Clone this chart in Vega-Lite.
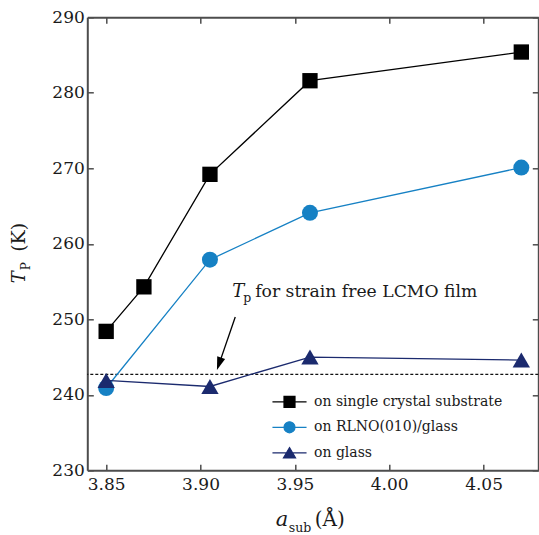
{
  "$schema": "https://vega.github.io/schema/vega-lite/v6.json",
  "width": 451,
  "height": 453,
  "autosize": {"type": "none"},
  "padding": {"left": 87.3, "top": 17.3, "right": 0.7, "bottom": 64.7},
  "background": "white",
  "config": {
    "view": {"stroke": null},
    "font": "DejaVu Serif",
    "text": {"font": "DejaVu Serif"},
    "axis": {
      "domainColor": "#4d4d4d",
      "domainWidth": 2,
      "tickColor": "#4d4d4d",
      "tickWidth": 1.5,
      "tickSize": -6,
      "labelFont": "DejaVu Serif",
      "labelFontSize": 17,
      "labelColor": "#1a1a1a",
      "grid": false,
      "title": null
    },
    "legend": {"labelFont": "DejaVu Serif"}
  },
  "datasets": {
    "tp": [
      {"a": 3.85, "Tp": 248.4, "series": "on single crystal substrate"},
      {"a": 3.87, "Tp": 254.3, "series": "on single crystal substrate"},
      {"a": 3.905, "Tp": 269.2, "series": "on single crystal substrate"},
      {"a": 3.958, "Tp": 281.6, "series": "on single crystal substrate"},
      {"a": 4.07, "Tp": 285.4, "series": "on single crystal substrate"},
      {"a": 3.85, "Tp": 240.9, "series": "on RLNO(010)/glass"},
      {"a": 3.905, "Tp": 257.9, "series": "on RLNO(010)/glass"},
      {"a": 3.958, "Tp": 264.1, "series": "on RLNO(010)/glass"},
      {"a": 4.07, "Tp": 270.1, "series": "on RLNO(010)/glass"},
      {"a": 3.85, "Tp": 241.9, "series": "on glass"},
      {"a": 3.905, "Tp": 241.1, "series": "on glass"},
      {"a": 3.958, "Tp": 245.0, "series": "on glass"},
      {"a": 4.07, "Tp": 244.6, "series": "on glass"}
    ]
  },
  "data": {"name": "tp"},
  "resolve": {"axis": {"x": "independent", "y": "independent"}},
  "layer": [
    {
      "data": {"values": [{}]},
      "mark": {"type": "rule", "strokeDash": [3, 2], "strokeWidth": 1.2, "color": "#111"},
      "encoding": {
        "y": {"datum": 242.7, "type": "quantitative", "scale": {"domain": [230, 290], "nice": false, "zero": false}, "axis": null}
      }
    },
    {
      "mark": {"type": "line", "strokeWidth": 1.3},
      "encoding": {
        "x": {"field": "a", "type": "quantitative", "scale": {"domain": [3.84, 4.079], "nice": false, "zero": false},
              "axis": {"orient": "bottom", "values": [3.85, 3.9, 3.95, 4.0, 4.05], "format": ".2f", "labelPadding": 12}},
        "y": {"field": "Tp", "type": "quantitative", "scale": {"domain": [230, 290], "nice": false, "zero": false},
              "axis": {"orient": "left", "values": [230, 240, 250, 260, 270, 280, 290], "format": "d", "labelPadding": 9}},
        "color": {
          "field": "series", "type": "nominal",
          "scale": {"domain": ["on single crystal substrate", "on RLNO(010)/glass", "on glass"], "range": ["#000000", "#1681c4", "#1b2a6e"]},
          "legend": {
            "orient": "none", "legendX": 195.2, "legendY": 377.5, "title": null,
            "labelFont": "DejaVu Serif", "labelFontSize": 14, "labelColor": "#1a1a1a", "labelLimit": 400,
            "symbolSize": 121, "symbolStrokeWidth": 1.2, "labelOffset": 17.5, "rowPadding": 9.5, "padding": 0,
            "encode": {
              "symbols": {
                "update": {
                  "shape": {"signal": "datum.value === 'on single crystal substrate' ? 'M-3.1,0H3.1M-1,-1H1V1H-1Z' : (datum.value === 'on RLNO(010)/glass' ? 'M-3.1,0H3.1M1,0A1,1,0,1,1,-1,0A1,1,0,1,1,1,0Z' : 'M-3.1,0H3.1M0,-0.95L1.1,0.95H-1.1Z')"},
                  "fill": {"scale": "color", "field": "value"},
                  "stroke": {"scale": "color", "field": "value"},
                  "opacity": {"value": 1}
                }
              }
            }
          }
        }
      }
    },
    {
      "transform": [{"filter": "datum.series === 'on single crystal substrate'"}],
      "mark": {"type": "point", "filled": true, "opacity": 1, "strokeWidth": 0, "shape": "square", "size": 235, "color": "#000000"},
      "encoding": {
        "x": {"field": "a", "type": "quantitative", "axis": null},
        "y": {"field": "Tp", "type": "quantitative", "axis": null}
      }
    },
    {
      "transform": [{"filter": "datum.series === 'on RLNO(010)/glass'"}],
      "mark": {"type": "point", "filled": true, "opacity": 1, "strokeWidth": 0, "shape": "circle", "size": 256, "color": "#1681c4"},
      "encoding": {
        "x": {"field": "a", "type": "quantitative", "axis": null},
        "y": {"field": "Tp", "type": "quantitative", "axis": null}
      }
    },
    {
      "transform": [{"filter": "datum.series === 'on glass'"}],
      "mark": {"type": "point", "filled": true, "opacity": 1, "strokeWidth": 0, "shape": "triangle-up", "size": 300, "color": "#1b2a6e"},
      "encoding": {
        "x": {"field": "a", "type": "quantitative", "axis": null},
        "y": {"field": "Tp", "type": "quantitative", "axis": null}
      }
    },
    {
      "data": {"values": [{}]},
      "mark": {"type": "rule", "strokeWidth": 1.3, "color": "#000"},
      "encoding": {
        "x": {"datum": 3.9184, "type": "quantitative", "axis": null},
        "y": {"datum": 250.3, "type": "quantitative", "axis": null},
        "x2": {"datum": 3.9107},
        "y2": {"datum": 244.7}
      }
    },
    {
      "data": {"values": [{}]},
      "mark": {"type": "point", "filled": true, "opacity": 1, "strokeWidth": 0, "color": "#000", "size": 676, "angle": 19,
               "shape": "M0,0L-0.32,-1L0.32,-1Z"},
      "encoding": {
        "x": {"datum": 3.9087, "type": "quantitative", "axis": null},
        "y": {"datum": 243.3, "type": "quantitative", "axis": null}
      }
    },
    {
      "data": {"values": [{"t": "T"}]},
      "mark": {"type": "text", "fontStyle": "italic", "fontSize": 18, "align": "left", "baseline": "alphabetic", "color": "#1a1a1a"},
      "encoding": {
        "x": {"datum": 3.9168, "type": "quantitative", "axis": null},
        "y": {"datum": 253.0, "type": "quantitative", "axis": null},
        "text": {"field": "t"}
      }
    },
    {
      "data": {"values": [{"t": "p"}]},
      "mark": {"type": "text", "fontSize": 12.5, "align": "left", "baseline": "alphabetic", "dx": 11, "dy": 5, "color": "#1a1a1a"},
      "encoding": {
        "x": {"datum": 3.9168, "type": "quantitative", "axis": null},
        "y": {"datum": 253.0, "type": "quantitative", "axis": null},
        "text": {"field": "t"}
      }
    },
    {
      "data": {"values": [{"t": "for strain free LCMO film"}]},
      "mark": {"type": "text", "fontSize": 17.2, "align": "left", "baseline": "alphabetic", "dx": 23, "color": "#1a1a1a"},
      "encoding": {
        "x": {"datum": 3.9168, "type": "quantitative", "axis": null},
        "y": {"datum": 253.0, "type": "quantitative", "axis": null},
        "text": {"field": "t"}
      }
    },
    {
      "data": {"values": [{"t": "a"}]},
      "mark": {"type": "text", "fontStyle": "italic", "fontSize": 21, "align": "left", "baseline": "alphabetic", "dx": -37, "dy": 56, "color": "#1a1a1a"},
      "encoding": {
        "x": {"datum": 3.9595, "type": "quantitative", "axis": null},
        "y": {"datum": 230, "type": "quantitative", "axis": null},
        "text": {"field": "t"}
      }
    },
    {
      "data": {"values": [{"t": "sub"}]},
      "mark": {"type": "text", "fontSize": 12.5, "align": "left", "baseline": "alphabetic", "dx": -24, "dy": 62, "color": "#1a1a1a"},
      "encoding": {
        "x": {"datum": 3.9595, "type": "quantitative", "axis": null},
        "y": {"datum": 230, "type": "quantitative", "axis": null},
        "text": {"field": "t"}
      }
    },
    {
      "data": {"values": [{"t": "(Å)"}]},
      "mark": {"type": "text", "fontSize": 20, "align": "left", "baseline": "alphabetic", "dx": 2, "dy": 56, "color": "#1a1a1a"},
      "encoding": {
        "x": {"datum": 3.9595, "type": "quantitative", "axis": null},
        "y": {"datum": 230, "type": "quantitative", "axis": null},
        "text": {"field": "t"}
      }
    },
    {
      "data": {"values": [{"t": "T"}]},
      "mark": {"type": "text", "fontStyle": "italic", "fontSize": 18, "align": "left", "baseline": "alphabetic", "angle": 270, "dx": -39.4, "dy": -62, "color": "#1a1a1a"},
      "encoding": {
        "x": {"datum": 3.84, "type": "quantitative", "axis": null},
        "y": {"datum": 260, "type": "quantitative", "axis": null},
        "text": {"field": "t"}
      }
    },
    {
      "data": {"values": [{"t": "P"}]},
      "mark": {"type": "text", "fontSize": 12, "align": "left", "baseline": "alphabetic", "angle": 270, "dx": -26.5, "dy": -57.5, "color": "#1a1a1a"},
      "encoding": {
        "x": {"datum": 3.84, "type": "quantitative", "axis": null},
        "y": {"datum": 260, "type": "quantitative", "axis": null},
        "text": {"field": "t"}
      }
    },
    {
      "data": {"values": [{"t": "(K)"}]},
      "mark": {"type": "text", "fontSize": 19, "align": "left", "baseline": "alphabetic", "angle": 270, "dx": -8, "dy": -62, "color": "#1a1a1a"},
      "encoding": {
        "x": {"datum": 3.84, "type": "quantitative", "axis": null},
        "y": {"datum": 260, "type": "quantitative", "axis": null},
        "text": {"field": "t"}
      }
    },
    {
      "data": {"values": [{}]},
      "mark": {"type": "point", "opacity": 0},
      "encoding": {
        "x": {"datum": 3.9, "type": "quantitative", "axis": {"orient": "top", "values": [3.85, 3.9, 3.95, 4.0, 4.05], "labels": false}},
        "y": {"datum": 260, "type": "quantitative", "axis": {"orient": "right", "values": [230, 240, 250, 260, 270, 280, 290], "labels": false}}
      }
    }
  ]
}
